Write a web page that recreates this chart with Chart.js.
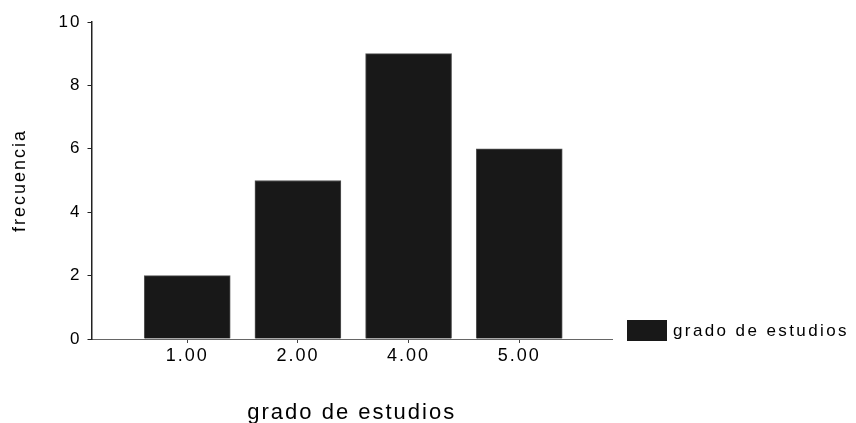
<!DOCTYPE html>
<html>
<head>
<meta charset="utf-8">
<script src="https://cdn.jsdelivr.net/npm/chart.js@4.4.1/dist/chart.umd.min.js"></script>
<style>
  html, body { margin: 0; padding: 0; background: #fff; }
  #wrap { width: 856px; height: 423px; }
</style>
</head>
<body>
<div id="wrap"><canvas id="chart" width="856" height="423"></canvas></div>
<script>
// datos del grafico
const categories = ['1.00', '2.00', '4.00', '5.00'];
const frecuencias = [2, 5, 9, 6];
const yTicks = [0, 2, 4, 6, 8, 10];

const font = 'Liberation Sans, Arial, Helvetica, sans-serif';
const barColor = '#181818';

// positions 1..n on a linear axis, so the axis line can run past the bars
const points = categories.map((c, i) => ({ x: i + 1, y: frecuencias[i] }));

// the old SPSS output has wide letter spacing, canvas state is reset on resize so set it each time
const spacing = {
    id: 'spacing',
    beforeLayout(chart) { chart.ctx.letterSpacing = '2px'; },
    beforeDraw(chart) { chart.ctx.letterSpacing = '2px'; }
};

// legend box to the right of the x axis end
const sideLegend = {
    id: 'sideLegend',
    afterDraw(chart) {
        const c = chart.ctx;
        const ds = chart.data.datasets[0];
        const area = chart.chartArea;
        const x = area.right + 15, y = area.bottom - 19;
        c.save();
        c.fillStyle = ds.backgroundColor;
        c.fillRect(x, y, 40, 21);
        c.letterSpacing = '2.4px';
        c.font = '17px ' + font;
        c.fillStyle = '#000';
        c.textBaseline = 'middle';
        c.fillText(ds.label, x + 46, y + 11);
        c.restore();
    }
};

const ctx = document.getElementById('chart').getContext('2d');
const chart = new Chart(ctx, {
    type: 'bar',
    data: {
        datasets: [{
            label: 'grado de estudios',
            data: points,
            backgroundColor: barColor,
            borderColor: '#555',
            borderWidth: 1,
            barThickness: 86
        }]
    },
    plugins: [spacing, sideLegend],
    options: {
        responsive: false,
        animation: false,
        layout: { padding: { left: 7, top: 22, right: 244, bottom: -3 } },
        plugins: {
            tooltip: { enabled: false },
            legend: { display: false }
        },
        scales: {
            x: {
                type: 'linear',
                min: 0.135,
                max: 4.838,
                offset: false,
                afterBuildTicks: scale => {
                    scale.ticks = categories.map((c, i) => ({ value: i + 1 }));
                },
                ticks: {
                    color: '#000',
                    font: { family: font, size: 18 },
                    padding: 2,
                    maxRotation: 0,
                    callback: (v, i) => categories[i]
                },
                grid: { offset: false, drawOnChartArea: false, drawTicks: true, tickLength: 4, color: '#444' },
                border: { display: true, color: '#666', width: 1 },
                title: {
                    display: true,
                    text: 'grado de estudios',
                    color: '#000',
                    font: { family: font, size: 22 },
                    padding: { top: 31, bottom: 0 }
                }
            },
            y: {
                min: 0,
                max: 10,
                afterBuildTicks: scale => {
                    scale.ticks = yTicks.map(v => ({ value: v }));
                },
                ticks: {
                    color: '#000',
                    font: { family: font, size: 17 },
                    padding: 6
                },
                grid: { drawOnChartArea: false, drawTicks: true, tickLength: 4, color: '#222' },
                border: { display: true, color: '#222', width: 1.5 },
                title: {
                    display: true,
                    text: 'frecuencia',
                    color: '#000',
                    font: { family: font, size: 18 },
                    padding: { top: 2, bottom: 22 }
                }
            }
        }
    }
});
</script>
</body>
</html>
